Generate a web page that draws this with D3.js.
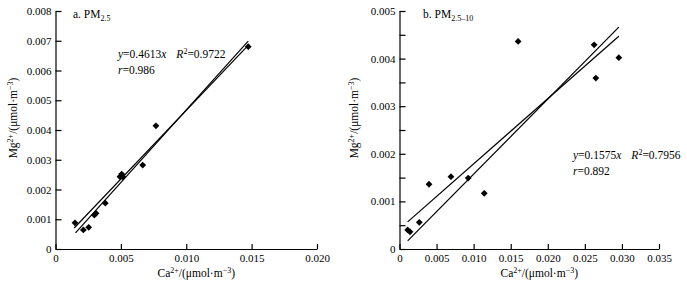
<!DOCTYPE html>
<html>
<head>
<meta charset="utf-8">
<script src="https://cdn.jsdelivr.net/npm/d3@7"></script>
<style>
  body { margin: 0; background: #fff; }
  svg text { font-family: "Liberation Serif", "DejaVu Serif", serif; fill: #000; }
</style>
</head>
<body>
<div id="chart"></div>
<script>
// panel a: PM2.5
const caA = [0.00149, 0.00213, 0.00254, 0.00297, 0.0031, 0.00381, 0.00493, 0.00506, 0.00516, 0.00667, 0.00768, 0.01474];
const mgA = [0.00088, 0.00064, 0.00073, 0.00114, 0.0012, 0.00154, 0.00243, 0.00252, 0.00242, 0.00282, 0.00414, 0.0068];
// two fitted lines, endpoints
const fitA1 = [[0.00143, 0.000706], [0.01477, 0.00686]];
const fitA2 = [[0.00153, 0.00054], [0.01474, 0.00699]];
const xTicksA = [0, 0.005, 0.010, 0.015, 0.020];
const yTicksA = [0, 0.001, 0.002, 0.003, 0.004, 0.005, 0.006, 0.007, 0.008];

// panel b: PM2.5-10
const caB = [0.0011, 0.00142, 0.00267, 0.00398, 0.00694, 0.00927, 0.01143, 0.0160, 0.02625, 0.02648, 0.02958];
const mgB = [0.0004, 0.00036, 0.00056, 0.00136, 0.00152, 0.00149, 0.00117, 0.00436, 0.00429, 0.00359, 0.00402];
const fitB1 = [[0.0011, 0.00057], [0.02958, 0.00447]];
const fitB2 = [[0.0011, 0.00017], [0.02958, 0.00466]];
const xTicksB = [0, 0.005, 0.010, 0.015, 0.020, 0.025, 0.030, 0.035];
const yTicksB = [0, 0.0005, 0.001, 0.0015, 0.002, 0.0025, 0.003, 0.0035, 0.004, 0.0045, 0.005];

const W = 687, H = 289;
const svg = d3.select("#chart").append("svg").attr("width", W).attr("height", H);

const fmt = d => d === 0 ? "0" : d3.format(".3f")(d);

function panel(opt) {
    const x = d3.scaleLinear().domain(opt.xDomain).range(opt.xRange);
    const y = d3.scaleLinear().domain(opt.yDomain).range([249, 11]);
    const g = svg.append("g");

    const xAxis = d3.axisBottom(x).tickValues(opt.xTicks).tickFormat(fmt)
        .tickSizeInner(-5).tickSizeOuter(0).tickPadding(5);
    const yAxis = d3.axisLeft(y).tickValues(opt.yTicks)
        .tickFormat(d => Math.abs(d * 1000 - Math.round(d * 1000)) < 1e-9 ? fmt(d) : "")
        .tickSizeInner(-6).tickSizeOuter(0).tickPadding(4);

    const gx = g.append("g").attr("transform", `translate(0,${y(0)})`).call(xAxis);
    const gy = g.append("g").attr("transform", `translate(${x(0)},0)`).call(yAxis);
    for (const a of [gx, gy]) {
        a.selectAll("path, line").attr("stroke", "#000").attr("stroke-width", 1.2);
        a.selectAll("text").attr("font-size", 11).attr("font-family", "Liberation Serif");
    }
    gx.selectAll("text").attr("dy", "0.71em");

    // fitted lines
    for (const f of opt.fits) {
        g.append("line")
            .attr("x1", x(f[0][0])).attr("y1", y(f[0][1]))
            .attr("x2", x(f[1][0])).attr("y2", y(f[1][1]))
            .attr("stroke", "#000").attr("stroke-width", 1.2);
    }

    // diamond markers
    const r = 3.4;
    g.append("g").selectAll("path")
        .data(opt.xs.map((v, i) => [v, opt.ys[i]]))
        .join("path")
        .attr("transform", d => `translate(${x(d[0])},${y(d[1])})`)
        .attr("d", `M0,${-r}L${r},0L0,${r}L${-r},0Z`)
        .attr("fill", "#000");

    // axis titles
    const xt = g.append("text").attr("x", (opt.xRange[0] + opt.xRange[1]) / 2 + 10).attr("y", 277)
        .attr("text-anchor", "middle").attr("font-size", 11.5);
    xt.append("tspan").text("Ca");
    xt.append("tspan").attr("dy", -4).attr("font-size", 8).text("2+");
    xt.append("tspan").attr("dy", 4).text("/(μmol·m");
    xt.append("tspan").attr("dy", -4).attr("font-size", 8).text("−3");
    xt.append("tspan").attr("dy", 4).text(")");

    const yt = g.append("text")
        .attr("transform", `translate(${opt.yTitleX},118) rotate(-90)`)
        .attr("text-anchor", "middle").attr("font-size", 11.5);
    yt.append("tspan").text("Mg");
    yt.append("tspan").attr("dy", -4).attr("font-size", 8).text("2+");
    yt.append("tspan").attr("dy", 4).text("/(μmol·m");
    yt.append("tspan").attr("dy", -4).attr("font-size", 8).text("−3");
    yt.append("tspan").attr("dy", 4).text(")");

    // panel label
    const t = g.append("text").attr("x", opt.title[0]).attr("y", opt.title[1]).attr("font-size", 11.5);
    t.append("tspan").text(opt.titleMain);
    t.append("tspan").attr("dy", 3).attr("font-size", 8).text(opt.titleSub);

    // equation
    const e = g.append("text").attr("x", opt.eq[0]).attr("y", opt.eq[1]).attr("font-size", 11.5);
    e.append("tspan").attr("font-style", "italic").text("y");
    e.append("tspan").text(opt.slope);
    e.append("tspan").attr("font-style", "italic").text("x");
    e.append("tspan").attr("dx", 10).attr("font-style", "italic").text("R");
    e.append("tspan").attr("dy", -4).attr("font-size", 8).text("2");
    e.append("tspan").attr("dy", 4).text(opt.r2);

    const rr = g.append("text").attr("x", opt.eq[0]).attr("y", opt.eq[1] + 16).attr("font-size", 11.5);
    rr.append("tspan").attr("font-style", "italic").text("r");
    rr.append("tspan").text(opt.r);
}

panel({
    xDomain: [0, 0.02], xRange: [55.5, 317], yDomain: [0, 0.008],
    xTicks: xTicksA, yTicks: yTicksA, xs: caA, ys: mgA, fits: [fitA1, fitA2],
    yTitleX: 17, title: [73, 18], titleMain: "a. PM", titleSub: "2.5",
    eq: [118, 58], slope: "=0.4613", r2: "=0.9722", r: "=0.986"
});

panel({
    xDomain: [0, 0.035], xRange: [399.5, 659], yDomain: [0, 0.005],
    xTicks: xTicksB, yTicks: yTicksB, xs: caB, ys: mgB, fits: [fitB1, fitB2],
    yTitleX: 358, title: [423, 18], titleMain: "b. PM", titleSub: "2.5–10",
    eq: [573, 159], slope: "=0.1575", r2: "=0.7956", r: "=0.892"
});
</script>
</body>
</html>
